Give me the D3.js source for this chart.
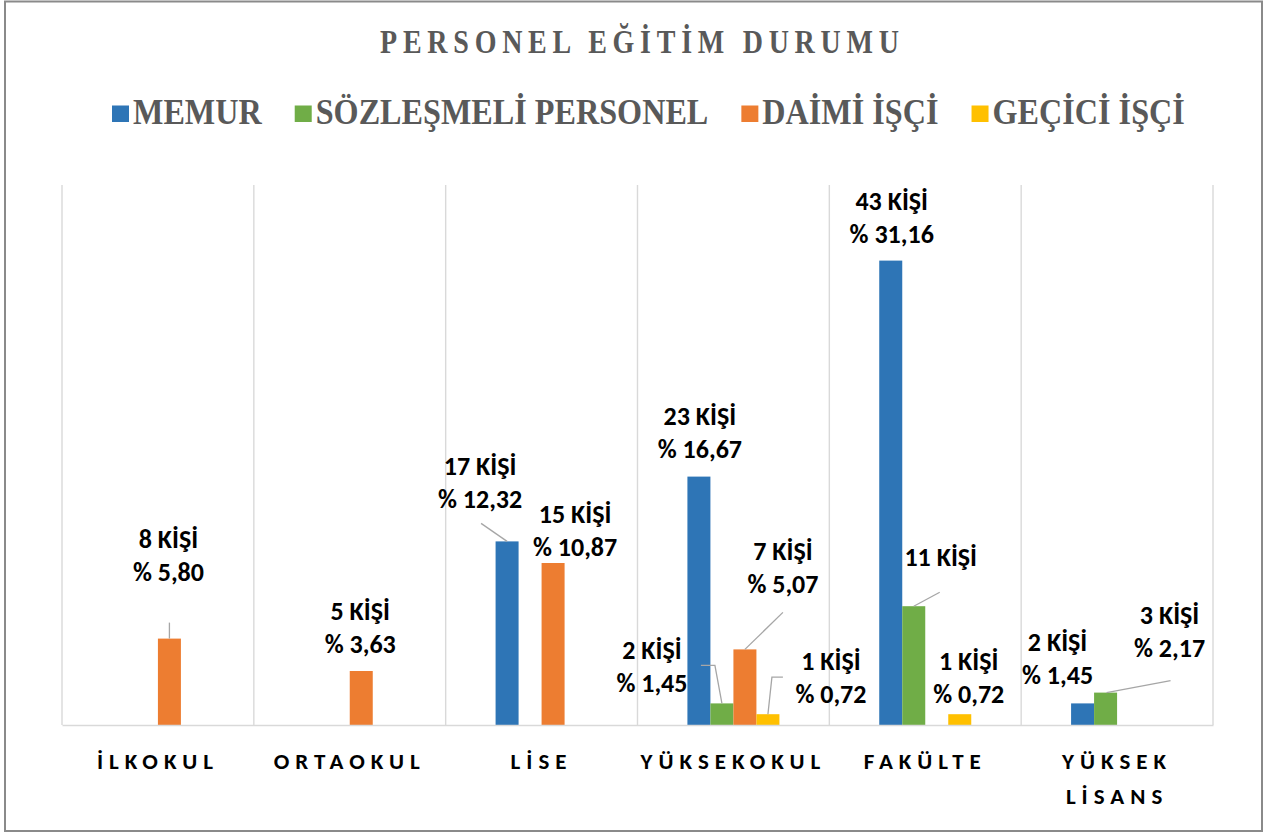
<!DOCTYPE html>
<html>
<head>
<meta charset="utf-8">
<script src="https://cdn.jsdelivr.net/npm/d3@7"></script>
<style>
  html, body { margin: 0; padding: 0; background: #fff; }
  svg { display: block; }
  .cat { font-family: Calibri, Carlito, Lato, 'Open Sans', sans-serif; font-weight: 700; font-size: 23px; letter-spacing: 6px; fill: #000; }
</style>
</head>
<body>
<svg id="chart" width="1275" height="836"></svg>
<script>
// ---------- DATA ----------
const title = "PERSONEL EĞİTİM DURUMU";
const categories = ["İLKOKUL", "ORTAOKUL", "LİSE", "YÜKSEKOKUL", "FAKÜLTE", "YÜKSEK LİSANS"];
const seriesNames = ["MEMUR", "SÖZLEŞMELİ PERSONEL", "DAİMİ İŞÇİ", "GEÇİCİ İŞÇİ"];
const memur      = [0, 0, 17, 23, 43, 2];
const sozlesmeli = [0, 0, 0, 2, 11, 3];
const daimi      = [8, 5, 15, 7, 0, 0];
const gecici     = [0, 0, 0, 1, 1, 0];
// percentage texts as printed on the chart
const memurPct      = [null, null, "12,32", "16,67", "31,16", "1,45"];
const sozlesmeliPct = [null, null, null, "1,45", null, "2,17"];
const daimiPct      = ["5,80", "3,63", "10,87", "5,07", null, null];
const geciciPct     = [null, null, null, "0,72", "0,72", null];
const unitLabel = "KİŞİ";

// ---------- STYLE / LAYOUT ----------
const colors = ["#2E75B6", "#70AD47", "#ED7D31", "#FFC000"];
const seriesValues = [memur, sozlesmeli, daimi, gecici];
const seriesPct = [memurPct, sozlesmeliPct, daimiPct, geciciPct];

// label placement relative to bar top-centre: [dx, dy of first baseline], leader points
const labelLayout = {
  "0|2": { dx: -1, dy: -91, leader: [[0, -16], [0, 0]] },
  "1|2": { dx: -1, dy: -51 },
  "2|0": { dx: -27, dy: -66, leader: [[-26, -18], [0, 0]] },
  "2|2": { dx: 22, dy: -40 },
  "3|0": { dx: 1, dy: -52 },
  "3|1": { dx: -70, dy: -44, leader: [[-21, -38], [-7, -38], [0, 0]] },
  "3|2": { dx: 38, dy: -89, leader: [[38, -37], [0, 0]] },
  "3|3": { dx: 63, dy: -44, leader: [[15, -37], [4, -37], [0, 0]] },
  "4|0": { dx: 1, dy: -51 },
  "4|1": { dx: 27, dy: -40, leader: [[26, -14], [0, 0]] },
  "4|3": { dx: 9, dy: -44 },
  "5|0": { dx: -25, dy: -52 },
  "5|1": { dx: 64, dy: -69, leader: [[65, -12], [1, 0]] }
};

const W = 1275, H = 836;
const plot = { left: 62, right: 1213, top: 185, bottom: 725 };
const sansFont = "Calibri, Carlito, Lato, 'Open Sans', sans-serif";
const serifFont = "'Times New Roman', 'Liberation Serif', 'DejaVu Serif', serif";

const svg = d3.select("#chart");

// chart border
svg.append("rect")
  .attr("x", 5).attr("y", 1.5).attr("width", 1257).attr("height", 829.5)
  .attr("fill", "#fff").attr("stroke", "#8a8a8a").attr("stroke-width", 2);

// scales
const x0 = d3.scaleBand().domain(categories).range([plot.left, plot.right]).paddingInner(0).paddingOuter(0);
const x1 = d3.scaleBand().domain(d3.range(seriesNames.length)).range([0, x0.bandwidth()])
  .paddingInner(0).paddingOuter(2.17);
const y = d3.scaleLinear().domain([0, 50]).range([plot.bottom, plot.top]);

// vertical gridlines at category boundaries
const bounds = categories.map(c => x0(c)).concat([plot.right]);
svg.append("g").selectAll("line").data(bounds).join("line")
  .attr("x1", d => d).attr("x2", d => d)
  .attr("y1", plot.top).attr("y2", plot.bottom)
  .attr("stroke", "#d9d9d9").attr("stroke-width", 1.4);

// bars
const barData = [];
categories.forEach((c, ci) => {
  seriesValues.forEach((vals, si) => {
    if (vals[ci] > 0) barData.push({ c, ci, si, v: vals[ci], pct: seriesPct[si][ci] });
  });
});

svg.append("g").selectAll("rect").data(barData).join("rect")
  .attr("x", d => x0(d.c) + x1(d.si))
  .attr("width", x1.bandwidth())
  .attr("y", d => y(d.v))
  .attr("height", d => y(0) - y(d.v))
  .attr("fill", d => colors[d.si]);

// x axis line
const axisG = svg.append("g")
  .attr("transform", `translate(0,${plot.bottom})`)
  .call(d3.axisBottom(x0).tickSize(0).tickSizeOuter(0).tickFormat(""));
axisG.select(".domain").attr("stroke", "#d9d9d9").attr("stroke-width", 1.6);

// category labels (centred on the bands, wrapped when too wide)
const catG = svg.append("g");
categories.forEach(c => {
  const cx = x0(c) + x0.bandwidth() / 2;
  const t = catG.append("text").attr("class", "cat")
    .attr("text-anchor", "middle").attr("x", cx).attr("y", plot.bottom + 44).text(c);
  const words = c.split(" ");
  if (words.length > 1 && t.node().getComputedTextLength() > x0.bandwidth() - 10) {
    t.text(null);
    words.forEach((w, i) => t.append("tspan").attr("x", cx).attr("y", plot.bottom + 44 + i * 35).text(w));
  }
});

// leaders
const line = d3.line();
svg.append("g").selectAll("path")
  .data(barData.filter(d => labelLayout[d.ci + "|" + d.si] && labelLayout[d.ci + "|" + d.si].leader))
  .join("path")
  .attr("d", d => {
    const L = labelLayout[d.ci + "|" + d.si];
    const cx = x0(d.c) + x1(d.si) + x1.bandwidth() / 2;
    const top = y(d.v);
    return line(L.leader.map(p => [cx + p[0], top + p[1]]));
  })
  .attr("fill", "none").attr("stroke", "#a6a6a6").attr("stroke-width", 1.3);

// data labels
const lblG = svg.append("g")
  .style("font-family", sansFont).style("font-weight", "bold")
  .style("font-size", "26px").attr("fill", "#000").attr("text-anchor", "middle");
barData.forEach(d => {
  const L = labelLayout[d.ci + "|" + d.si] || { dx: 0, dy: -45 };
  const cx = x0(d.c) + x1(d.si) + x1.bandwidth() / 2 + L.dx;
  const top = y(d.v) + L.dy;
  const lines = [`${d.v} ${unitLabel}`];
  if (d.pct) lines.push(`% ${d.pct}`);
  const t = lblG.append("text");
  lines.forEach((s, i) => t.append("tspan").attr("x", cx).attr("y", top + i * 33).text(s));
});

// title
const titleBaseline = 53;
const titleText = svg.append("text")
  .style("font-family", serifFont).style("font-weight", "bold")
  .style("font-size", "28px").attr("fill", "#595959")
  .attr("text-anchor", "middle")
  .text(title);
const tw = titleText.node().getComputedTextLength();
const titleSpan = 519;
const ls = (titleSpan - tw) / (title.length - 1);
titleText.style("letter-spacing", ls + "px")
  .attr("transform", `translate(${639.5 + ls / 2},${titleBaseline}) scale(1,1.22)`);

// legend
const legendG = svg.append("g");
let lx = 112;
const legendBaseline = 124;
seriesNames.forEach((name, i) => {
  legendG.append("rect")
    .attr("x", lx).attr("y", 105.5).attr("width", 17).attr("height", 16.5)
    .attr("fill", colors[i]);
  const t = legendG.append("text")
    .style("font-family", serifFont).style("font-weight", "bold")
    .style("font-size", "32.2px").attr("fill", "#595959")
    .text(name);
  const w = t.node().getComputedTextLength();
  t.attr("transform", `translate(${lx + 21},${legendBaseline}) scale(1,1.12)`);
  lx += 21 + w + 33;
});
</script>
</body>
</html>
